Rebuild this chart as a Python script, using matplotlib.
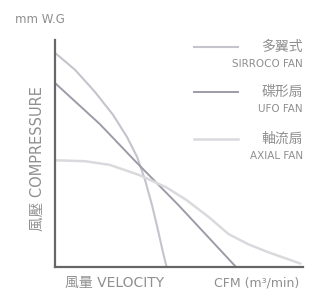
import matplotlib
matplotlib.use("Agg")
import matplotlib.pyplot as plt

plt.rcParams['font.family'] = ['Noto Sans CJK TC', 'DejaVu Sans']

# curves (x: air volume, y: pressure, 0..100)
sirroco_x = [0, 8.1, 16.1, 23.4, 29, 33.1, 36.3, 39.1, 41.5, 43.5, 45]
sirroco_y = [94.3, 86.8, 77.1, 67, 57.3, 48.5, 38.3, 27.3, 16.3, 6.6, 0]
ufo_x = [0, 18, 32, 50, 73]
ufo_y = [81, 63, 47, 27, 0]
axial_x = [0, 12, 22, 34, 45, 53, 62, 70, 78, 86, 99]
axial_y = [47, 46.6, 45, 40.5, 35, 29.5, 22, 14.5, 10, 6.5, 1.5]

names_zh = ['多翼式', '碟形扇', '軸流扇']
names_en = ['SIRROCO FAN', 'UFO FAN', 'AXIAL FAN']
colors = ['#c4c4cc', '#9c9ca8', '#dadade']
widths = [1.5, 1.4, 1.8]

fig = plt.figure(figsize=(3.24, 2.96), dpi=100)
ax = fig.add_axes([0.170, 0.098, 0.765, 0.767])

series = [(sirroco_x, sirroco_y), (ufo_x, ufo_y), (axial_x, axial_y)]
for (xs, ys), c, w in zip(series, colors, widths):
    ax.plot(xs, ys, color=c, lw=w, solid_capstyle='round',
            solid_joinstyle='round')

ax.set_xlim(0, 100)
ax.set_ylim(0, 100)
for s in ['top', 'right']:
    ax.spines[s].set_visible(False)
for s in ['left', 'bottom']:
    ax.spines[s].set_color('#666666')
    ax.spines[s].set_linewidth(1.6)
ax.set_xticks([])
ax.set_yticks([])

# hand-made legend on the right
txt = '#8f8f8f'
latin = ['DejaVu Sans', 'Noto Sans CJK TC']
leg_y = [0.97, 0.77, 0.565]
for ly, c, w, zh, en in zip(leg_y, colors, widths, names_zh, names_en):
    ax.plot([0.56, 0.74], [ly, ly], transform=ax.transAxes, color=c, lw=w,
            clip_on=False)
    ax.text(1.0, ly, zh, transform=ax.transAxes, ha='right', va='center',
            fontsize=10, color=txt)
    ax.text(1.0, ly - 0.075, en, transform=ax.transAxes, ha='right',
            va='center', fontsize=7.5, color=txt, family=latin)

fig.text(0.045, 0.935, 'mm W.G', fontsize=8.5, color=txt, va='center',
         family=latin)
fig.text(0.115, 0.465, '風壓 COMPRESSURE', rotation=90, fontsize=10.5,
         color=txt, ha='center', va='center', family=latin)
fig.text(0.20, 0.045, '風量 VELOCITY', fontsize=10, color=txt, va='center',
         family=latin)
fig.text(0.66, 0.045, 'CFM (m³/min)', fontsize=9, color=txt, va='center',
         family=latin)

fig.savefig('out.png', dpi=100)
